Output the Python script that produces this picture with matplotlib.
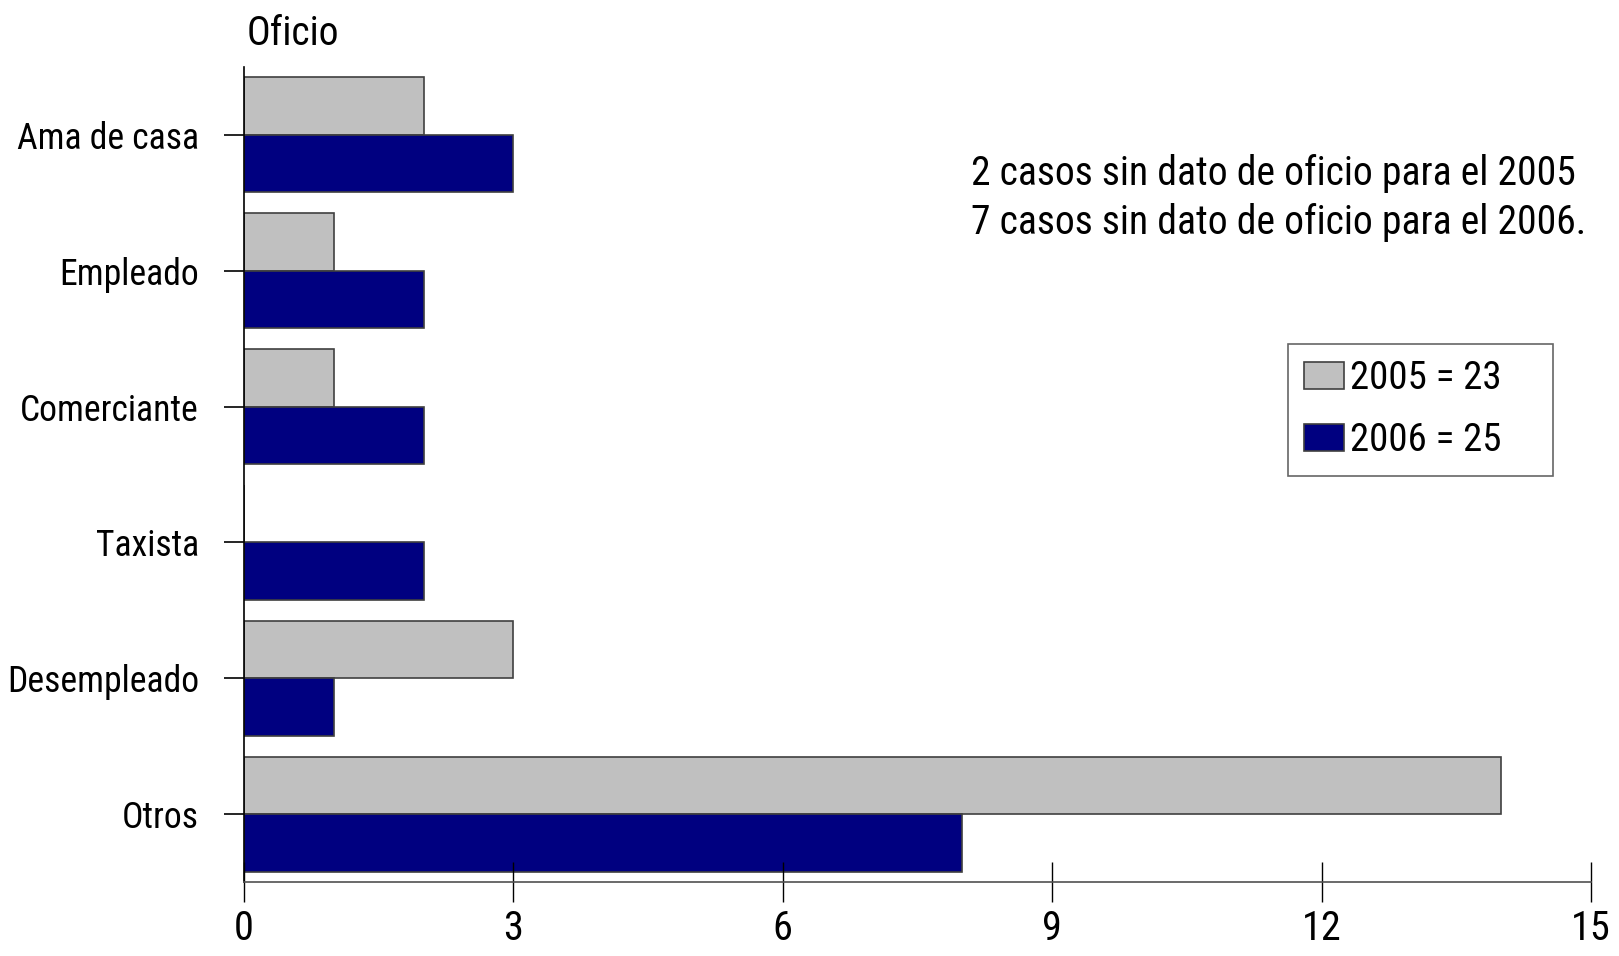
import numpy as np
import matplotlib
matplotlib.use('Agg')
import matplotlib.pyplot as plt
from matplotlib import font_manager

# pick a narrow sans if one is around, else shrink Liberation Sans
have = {f.name for f in font_manager.fontManager.ttflist}
FONT, SC = 'Liberation Sans', 0.8
for cand, sc in [('Liberation Sans Narrow', 1.0), ('Roboto Condensed', 0.95),
                 ('DejaVu Sans Condensed', 0.82)]:
    if cand in have:
        FONT, SC = cand, sc
        break
plt.rcParams['font.family'] = [FONT, 'Liberation Sans', 'DejaVu Sans']

# data
oficios = ["Ama de casa", "Empleado", "Comerciante", "Taxista", "Desempleado", "Otros"]
v2005 = [2, 1, 1, 0, 3, 14]
v2006 = [3, 2, 2, 2, 1, 8]
legend_labels = ["2005 = 23", "2006 = 25"]
nota = ["2 casos sin dato de oficio para el 2005",
        "7 casos sin dato de oficio para el 2006."]
xticks = [0, 3, 6, 9, 12, 15]

GRAY = '#C0C0C0'
NAVY = '#000080'
EDGE = '#404040'

fig = plt.figure(figsize=(16.19, 9.56), dpi=100)
fig.patch.set_facecolor('white')
ax = fig.add_axes([244/1619, 1-882/956, (1591-244)/1619, (882-67)/956])

y = np.arange(len(oficios))
h = 0.423
ax.barh(y - h/2, v2005, height=h, color=GRAY, edgecolor=EDGE, lw=1.2, label=legend_labels[0])
ax.barh(y + h/2, v2006, height=h, color=NAVY, edgecolor=EDGE, lw=1.2, label=legend_labels[1])

ax.set_xlim(0, 15)
ax.set_ylim(5.5, -0.5)
ax.set_xticks(xticks)
ax.set_xticklabels([str(t) for t in xticks], fontsize=30.5*SC)
ax.set_yticks(y)
ax.set_yticklabels(oficios, fontsize=27*SC)

for s in ['top', 'right']:
    ax.spines[s].set_visible(False)
ax.spines['left'].set_color('black')
ax.spines['left'].set_linewidth(1.2)
ax.spines['bottom'].set_color('#505050')
ax.spines['bottom'].set_linewidth(1.2)
ax.tick_params(axis='x', direction='inout', length=28.8, width=1.0, color='black', pad=5)
ax.tick_params(axis='y', direction='out', length=14.4, width=1.2, color='black', pad=18)

fig.text(247/1619, 1-45/956, "Oficio", fontsize=30*SC, ha='left', va='baseline')
fig.text(971/1619, 1-185/956, nota[0], fontsize=30*SC, ha='left', va='baseline')
fig.text(971/1619, 1-234/956, nota[1], fontsize=30*SC, ha='left', va='baseline')

lfs = 29.5*SC
leg = fig.legend(loc='upper left', bbox_to_anchor=(1288/1619, 1-474/956, 265/1619, 130/956),
                 mode='expand', borderaxespad=0,
                 fontsize=lfs, frameon=True, fancybox=False, shadow=False,
                 handlelength=28.8/lfs, handleheight=19.4/lfs, handletextpad=0.15,
                 borderpad=0.42, labelspacing=0.64)
leg.get_frame().set_edgecolor(EDGE)
leg.get_frame().set_linewidth(1.2)

fig.savefig('out.png', dpi=100, facecolor='white')
